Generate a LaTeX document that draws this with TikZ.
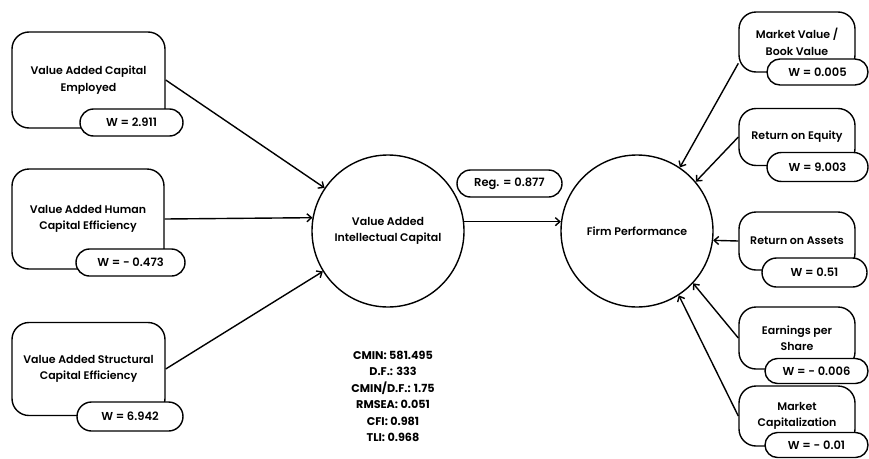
\documentclass[tikz,border=0pt]{standalone}
\usepackage{fontspec}
\setmainfont{Poppins}[UprightFont={* SemiBold},BoldFont={* Bold}]
\usetikzlibrary{arrows.meta,shapes.misc}

\begin{document}
\begin{tikzpicture}[x=1pt,y=-1pt,line width=1.4pt]
  % Styles
  \tikzstyle{factor}=[draw,rounded corners=17pt,align=center,inner sep=0pt,
    font=\fontsize{11}{16.5}\selectfont]
  \tikzstyle{weight}=[draw,fill=white,rounded rectangle,inner sep=0pt,
    minimum height=27pt,font=\fontsize{11.5}{16}\selectfont]
  \tikzstyle{latent}=[draw,circle,minimum size=152pt,align=center,inner sep=0pt,
    font=\fontsize{11}{16.5}\selectfont]
  \tikzstyle{link}=[-{Straight Barb[length=4.5pt,width=8pt]}]

  \useasboundingbox (0,0) rectangle (869,458);

  % Intellectual capital components
  \node[factor,minimum width=153pt,minimum height=96pt] (vace) at (88.5,80)
    {Value Added Capital\\Employed};
  \node[factor,minimum width=152pt,minimum height=100pt] (vahu) at (88,219)
    {Value Added Human\\Capital Efficiency};
  \node[factor,minimum width=153pt,minimum height=93pt] (stva) at (88.5,369)
    {Value Added Structural\\Capital Efficiency};

  \node[weight,minimum width=103pt] (wvace) at (131.5,122.5) {W = 2.911};
  \node[weight,minimum width=109pt] (wvahu) at (130.5,262.5) {W = - 0.473};
  \node[weight,minimum width=106pt,minimum height=29pt] (wstva) at (130,416.5) {W = 6.942};

  % Latent constructs
  \node[latent] (vaic) at (388,231) {Value Added\\Intellectual Capital};
  \node[latent] (fp) at (637,231) {Firm Performance};
  \node[weight,minimum width=105pt] (reg) at (509.5,183.5) {Reg. = 0.877};

  % Performance indicators
  \node[factor,minimum width=116pt,minimum height=60pt] (mvbv) at (797,42)
    {Market Value /\\Book Value};
  \node[factor,minimum width=116pt,minimum height=57pt] (roe) at (797,137)
    {Return on Equity};
  \node[factor,minimum width=116pt,minimum height=58pt] (roa) at (797,241)
    {Return on Assets};
  \node[factor,minimum width=116pt,minimum height=62pt] (eps) at (797,338)
    {Earnings per\\Share};
  \node[factor,minimum width=116pt,minimum height=60pt] (mcap) at (797,416)
    {Market\\Capitalization};

  \node[weight,minimum width=101pt,minimum height=26pt] (wmvbv) at (817.5,72) {W = 0.005};
  \node[weight,minimum width=101pt,minimum height=29pt] (wroe) at (817.5,167) {W = 9.003};
  \node[weight,minimum width=105pt,minimum height=29pt] (wroa) at (814.5,272.5) {W = 0.51};
  \node[weight,minimum width=103pt,minimum height=25pt] (weps) at (816.5,371) {W = - 0.006};
  \node[weight,minimum width=103pt,minimum height=25pt] (wmcap) at (816.5,445) {W = - 0.01};

  % Paths
  \draw[link] (vace.east) -- (vaic);
  \draw[link] (vahu.east) -- (vaic.170);
  \draw[link] (stva.east) -- (vaic);
  \draw[link] (vaic.7) -- (fp.173);

  \draw[link] (mvbv.200) -- (fp.56);
  \draw[link] (roe.west) -- (fp.40);
  \draw[link] (roa.west) -- (fp.-7);
  \draw[link] (eps.west) -- (fp.-43);
  \draw[link] (mcap.west) -- (fp.-57);

  % Fit indices
  \node[align=center,font=\bfseries\fontsize{11.2}{16.5}\selectfont] (fit) at (393,396.5)
    {CMIN: 581.495\\D.F.: 333\\CMIN/D.F.: 1.75\\RMSEA: 0.051\\CFI: 0.981\\TLI: 0.968};
\end{tikzpicture}
\end{document}
